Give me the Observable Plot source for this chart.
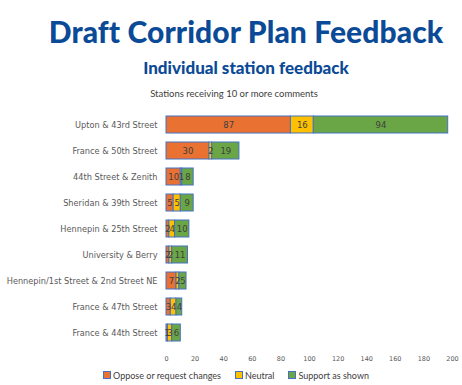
<!DOCTYPE html>
<html><head><meta charset="utf-8">
<script src="https://cdn.jsdelivr.net/npm/d3@7"></script>
<script src="https://cdn.jsdelivr.net/npm/@observablehq/plot@0.6"></script>
<style>
html,body{margin:0;padding:0;background:#fff;width:462px;height:385px;overflow:hidden;}
#title{position:absolute;left:0;top:13px;width:492px;text-align:center;font-family:Lato,"Noto Sans",sans-serif;font-weight:900;font-size:30px;color:#0b4a96;letter-spacing:0.1px;}
#sub{position:absolute;left:0;top:57px;width:492px;text-align:center;font-family:Lato,"Noto Sans",sans-serif;font-weight:900;font-size:17px;color:#0b4a96;}
#cap{position:absolute;left:0;top:88px;width:468px;text-align:center;font-family:Lato,"Noto Sans",sans-serif;font-size:9.5px;color:#404040;}
#chart{position:absolute;left:0;top:100px;}
#legend{position:absolute;left:0;top:370px;width:472px;text-align:center;font-family:Lato,"Noto Sans",sans-serif;font-size:9px;color:#404040;white-space:nowrap;}
.sw{display:inline-block;width:6px;height:6px;border:1px solid #4472c4;margin-right:2px;vertical-align:0px;}
.it{margin:0 7px;}
</style></head><body>
<div id="title">Draft Corridor Plan Feedback</div>
<div id="sub">Individual station feedback</div>
<div id="cap">Stations receiving 10 or more comments</div>
<div id="chart"></div>
<div id="legend"></div>
<script>
const stations = ["Upton & 43rd Street","France & 50th Street","44th Street & Zenith","Sheridan & 39th Street","Hennepin & 25th Street","University & Berry","Hennepin/1st Street & 2nd Street NE","France & 47th Street","France & 44th Street"];
const oppose  = [87,30,10,5,2,2,7,3,1];
const neutral = [16,2,1,5,4,2,2,4,3];
const support = [94,19,8,9,10,11,5,4,6];
const seriesNames = ["Oppose or request changes","Neutral","Support as shown"];
const seriesColors = ["#e97132","#ffc000","#6aa546"];
const xTicks = [0,20,40,60,80,100,120,140,160,180,200];

const rows = [];
stations.forEach((s,i)=>{
  rows.push({station:s, series:seriesNames[0], value:oppose[i]});
  rows.push({station:s, series:seriesNames[1], value:neutral[i]});
  rows.push({station:s, series:seriesNames[2], value:support[i]});
});
const stackOpts = {x:"value", y:"station", z:"series", order:seriesNames};

const chart = Plot.plot({
  width:462, height:268,
  marginLeft:166, marginRight:10, marginTop:9, marginBottom:21,
  style:{fontFamily:"DejaVu Sans, sans-serif", fontSize:"7px", color:"#595959", background:"transparent"},
  x:{domain:[0,200], ticks:xTicks, label:null, tickSize:0, tickPadding:9, grid:false},
  y:{domain:stations, label:null, tickSize:0, tickPadding:9, paddingInner:0.36, paddingOuter:0.18},
  color:{domain:seriesNames, range:seriesColors},
  marks:[
    Plot.ruleX(xTicks,{stroke:"#d9d9d9", strokeWidth:1, y1:null}),
    Plot.barX(rows, Plot.stackX({...stackOpts, fill:"series", stroke:"#4472c4", strokeWidth:1})),
    Plot.text(rows, Plot.stackX({...stackOpts, text:d=>String(d.value), fill:"#404040", fontSize:8.5, fontFamily:"DejaVu Sans, sans-serif"})),
    Plot.axisX({ticks:xTicks, tickSize:0, tickPadding:9, fontSize:6.5, fill:"#595959"}),
    Plot.axisY({tickSize:0, tickPadding:9, fontSize:8.2, fill:"#595959"})
  ]
});
document.getElementById("chart").appendChild(chart);

const leg = document.getElementById("legend");
seriesNames.forEach((n,i)=>{
  const sp = document.createElement("span"); sp.className="it";
  const sw = document.createElement("span"); sw.className="sw"; sw.style.background=seriesColors[i];
  sp.appendChild(sw); sp.appendChild(document.createTextNode(n));
  leg.appendChild(sp);
});
</script>
</body></html>
